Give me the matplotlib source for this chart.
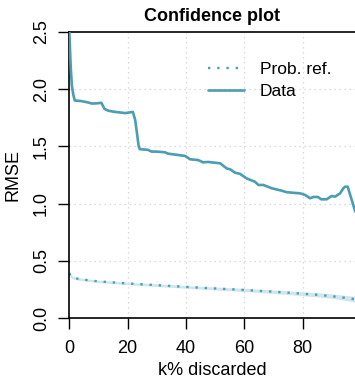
import numpy as np
import matplotlib.pyplot as plt

plt.rcParams['font.family'] = ['Liberation Sans', 'DejaVu Sans']

# observed RMSE as the k% most uncertain points are discarded
data_k = [0, 0.5, 0.9, 1.4, 1.9, 4, 6.1, 7.8, 9.5, 11, 12.1, 13.5, 15.8, 19.2,
          21.8, 22.6, 23.8, 24.2, 26.9, 28.2, 30, 32.8, 33.9, 39.7, 41.4, 44.2,
          45.9, 47.5, 51.7, 54, 55.1, 56.8, 58.5, 60.8, 63.7, 64.8, 66.5, 69.4,
          72.8, 74.5, 76.2, 79.1, 80.8, 82.5, 83.6, 85.2, 86.3, 88.2, 89.9,
          91.1, 92.8, 93.9, 94.5, 95.4, 96.6, 98]
data_rmse = [2.52, 2.2, 2.03, 1.95, 1.90, 1.895, 1.885, 1.873, 1.875, 1.88,
             1.826, 1.81, 1.80, 1.79, 1.80, 1.73, 1.50, 1.475, 1.47, 1.454,
             1.454, 1.448, 1.436, 1.416, 1.387, 1.38, 1.36, 1.364, 1.352, 1.306,
             1.30, 1.27, 1.26, 1.22, 1.19, 1.163, 1.163, 1.134, 1.113, 1.10,
             1.096, 1.09, 1.076, 1.047, 1.058, 1.058, 1.038, 1.038, 1.067,
             1.061, 1.09, 1.134, 1.148, 1.148, 1.047, 0.93]

# probabilistic reference with its spread
ref_k = [0, 0.5, 1, 2, 3, 6, 10, 15, 20, 30, 40, 47, 50, 60, 70, 80, 85, 90, 95, 98]
ref_rmse = [0.393, 0.37, 0.358, 0.349, 0.345, 0.334, 0.322, 0.313, 0.304, 0.289,
            0.274, 0.264, 0.26, 0.247, 0.232, 0.214, 0.205, 0.193, 0.177, 0.166]
ref_lo = [0.375, 0.356, 0.346, 0.338, 0.334, 0.323, 0.311, 0.302, 0.293, 0.277,
          0.262, 0.252, 0.247, 0.233, 0.217, 0.197, 0.187, 0.174, 0.155, 0.141]
ref_hi = [0.411, 0.384, 0.370, 0.360, 0.356, 0.345, 0.333, 0.324, 0.315, 0.301,
          0.286, 0.276, 0.273, 0.261, 0.247, 0.231, 0.223, 0.212, 0.199, 0.191]

x_ticks = [0, 20, 40, 60, 80]
y_ticks = [0.0, 0.5, 1.0, 1.5, 2.0, 2.5]

teal = '#4a9db3'
band = '#cfe6ee'

fig = plt.figure(figsize=(3.55, 3.80), dpi=100)
ax = fig.add_axes([0.195, 0.1624, 0.805, 0.7542])

ax.fill_between(ref_k, ref_lo, ref_hi, color=band, lw=0, zorder=1)
ax.plot(ref_k, ref_rmse, color=teal, lw=1.7, linestyle=(0, (1, 2.9)),
        dash_capstyle='butt', label='Prob. ref.', zorder=2)
ax.plot(data_k, data_rmse, color=teal, lw=1.9, solid_joinstyle='round',
        solid_capstyle='round', label='Data', zorder=3)

ax.set_xlim(0, 97.9)
ax.set_ylim(0, 2.5)
ax.set_xticks(x_ticks)
ax.set_yticks(y_ticks)
ax.set_yticklabels([f'{v:.1f}' for v in y_ticks])

for v in x_ticks[1:]:
    ax.axvline(v, color='#d0d0d0', lw=0.9, ls=(0, (1, 3)), zorder=0)
for v in y_ticks[1:-1]:
    ax.axhline(v, color='#d0d0d0', lw=0.9, ls=(0, (1, 3)), zorder=0)

ax.spines['right'].set_visible(False)
for s in ('left', 'bottom', 'top'):
    ax.spines[s].set_linewidth(1.2)
ax.tick_params(axis='both', length=8, width=1, labelsize=13)
ax.tick_params(axis='x', pad=7.5)
ax.tick_params(axis='y', pad=6)
for lab in ax.get_yticklabels():
    lab.set_rotation(90)
    lab.set_va('center')

ax.set_title('Confidence plot', fontsize=13, fontweight='bold', pad=8)
ax.set_xlabel('k% discarded', fontsize=13, labelpad=3.5)
ax.set_ylabel('RMSE', fontsize=13, labelpad=8)

ax.legend(loc='upper left', bbox_to_anchor=(0.586, 0.838),
          bbox_transform=fig.transFigure, frameon=False, fontsize=12.5,
          handlelength=2.1, handletextpad=0.9, labelspacing=0.42,
          borderpad=0, borderaxespad=0)

fig.savefig('out.png', dpi=100)
